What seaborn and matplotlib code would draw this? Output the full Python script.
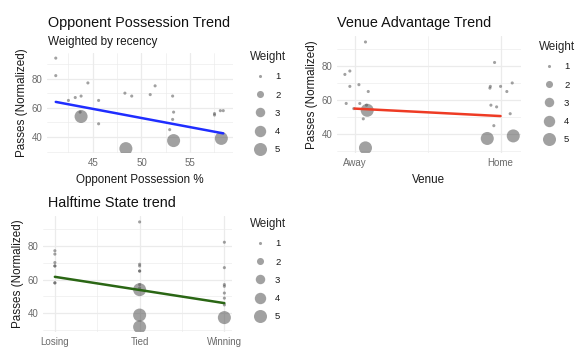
import numpy as np
import pandas as pd
import matplotlib
matplotlib.use("Agg")
import matplotlib.pyplot as plt
import seaborn as sns
from matplotlib.lines import Line2D
from matplotlib.ticker import FixedLocator

# one entry per match (last four = most recent, weight 5)
passes = [94, 82, 77, 75, 70, 69, 68, 68, 68, 67, 65, 65, 58, 58, 57, 57, 56, 55, 52, 49, 45,
          54, 32, 37.5, 39]
opp_possession = [41.2, 41.2, 44.5, 51.4, 48.3, 50.9, 43.8, 49.0, 53.2, 43.2, 42.5, 45.6, 58.1,
                  58.4, 43.7, 53.3, 57.5, 57.5, 53.2, 45.6, 52.9, 43.8, 48.4, 53.3, 58.2]
venue = ["Away", "Home", "Away", "Away", "Home", "Away", "Away", "Home", "Home", "Home", "Away",
         "Home", "Away", "Away", "Away", "Home", "Home", "Away", "Home", "Away", "Home",
         "Away", "Away", "Home", "Home"]
halftime = ["Tied", "Winning", "Losing", "Losing", "Losing", "Tied", "Losing", "Losing", "Tied",
            "Winning", "Tied", "Tied", "Losing", "Losing", "Tied", "Winning", "Winning", "Tied",
            "Winning", "Winning", "Winning", "Tied", "Tied", "Winning", "Tied"]
weight = [1] * 21 + [5] * 4
# horizontal jitter seen in the venue panel
venue_jitter = [0.075, -0.041, -0.032, -0.066, 0.08, 0.03, -0.032, -0.07, 0.0, -0.073, 0.094,
                0.043, -0.057, 0.036, 0.082, -0.066, -0.027, -0.005, 0.066, 0.06, -0.046,
                0.087, 0.075, -0.091, 0.087]

venue_levels = ["Away", "Home"]
halftime_levels = ["Losing", "Tied", "Winning"]
legend_weights = [1, 2, 3, 4, 5]

df = pd.DataFrame({"Passes": passes, "Possession": opp_possession, "Venue": venue,
                   "Halftime": halftime, "Weight": weight})
df["VenueCode"] = df["Venue"].map({v: i + 1 for i, v in enumerate(venue_levels)})
df["VenueX"] = df["VenueCode"] + np.array(venue_jitter)
df["HalftimeCode"] = df["Halftime"].map({v: i + 1 for i, v in enumerate(halftime_levels)})

sns.set_theme(style="white")
plt.rcParams["font.family"] = ["Liberation Sans", "DejaVu Sans"]

SMIN, SMAX = 5, 88
POINT = "#555555"
ALPHA = 0.55
GRID = "#ebebeb"
TICK = "#6b6b6b"

def size_of(w):
    return SMIN + (w - 1) / 4 * (SMAX - SMIN)

fig = plt.figure(figsize=(5.77, 3.5), dpi=100)
W, H = 577, 350

def add_ax(left, top, right, bottom):
    return fig.add_axes([left / W, 1 - bottom / H, (right - left) / W, (bottom - top) / H])

ax1 = add_ax(47, 53, 233, 153)
ax2 = add_ax(337, 36, 521, 153)
ax3 = add_ax(43, 216, 232, 332)

def panel(ax, xcol, fitcol, color, xlim, major, minor, ticklabels=None):
    sns.scatterplot(data=df, x=xcol, y="Passes", size="Weight", sizes=(SMIN, SMAX),
                    size_norm=(1, 5), color=POINT, alpha=ALPHA, linewidth=0,
                    legend=False, ax=ax, zorder=3)
    slope, icpt = np.polyfit(df[fitcol], df["Passes"], 1, w=np.sqrt(df["Weight"]))
    xs = np.array([df[fitcol].min(), df[fitcol].max()])
    sns.lineplot(x=xs, y=icpt + slope * xs, color=color, linewidth=1.8, ax=ax, zorder=4)
    ax.set_xlim(*xlim)
    ax.set_ylim(29, 97.5)
    ax.xaxis.set_major_locator(FixedLocator(major))
    ax.xaxis.set_minor_locator(FixedLocator(minor))
    ax.yaxis.set_major_locator(FixedLocator([40, 60, 80]))
    ax.yaxis.set_minor_locator(FixedLocator([30, 50, 70, 90]))
    if ticklabels:
        ax.set_xticklabels(ticklabels)
    ax.grid(True, which="major", color=GRID, linewidth=0.9)
    ax.grid(True, which="minor", color=GRID, linewidth=0.45)
    ax.set_axisbelow(True)
    for s in ax.spines.values():
        s.set_visible(False)
    ax.tick_params(which="both", length=0, labelsize=7, labelcolor=TICK, pad=3.5)
    ax.set_ylabel("Passes (Normalized)", fontsize=8.4, color="#1a1a1a", labelpad=2.5)
    ax.set_xlabel("")

    handles = [Line2D([], [], marker="o", linestyle="", color=POINT, alpha=ALPHA,
                      markeredgewidth=0, markersize=np.sqrt(size_of(w)))
               for w in legend_weights]
    return handles

h = panel(ax1, "Possession", "Possession", "#1f2dff", (40.3, 59.4),
          [45, 50, 55], [42.5, 47.5, 52.5, 57.5])
ax1.set_xlabel("Opponent Possession %", fontsize=8.4, color="#1a1a1a", labelpad=4.5)

panel(ax2, "VenueX", "VenueCode", "#ee3b24", (0.88, 2.14), [1, 2], [1.5], venue_levels)
ax2.set_xlabel("Venue", fontsize=8.4, color="#1a1a1a", labelpad=4.5)

panel(ax3, "HalftimeCode", "HalftimeCode", "#2a6614", (0.86, 3.09), [1, 2, 3], [1.5, 2.5],
      halftime_levels)

def legend_at(ax, x, y):
    leg = ax.legend(h, [str(w) for w in legend_weights], title="Weight",
                    loc="upper left", bbox_to_anchor=(x / W, 1 - y / H),
                    bbox_transform=fig.transFigure, frameon=False, fontsize=6.8,
                    title_fontsize=8.4, labelspacing=0.98, handlelength=2.1,
                    handletextpad=0.55, borderpad=0, borderaxespad=0)
    leg._legend_box.align = "left"
    for t in leg.get_texts():
        t.set_color("#1a1a1a")

legend_at(ax1, 250, 51)
legend_at(ax2, 539, 41)
legend_at(ax3, 250, 218)

fig.text(48 / W, 1 - 23 / H, "Opponent Possession Trend", fontsize=10.4, va="center", color="#111111")
fig.text(48 / W, 1 - 42 / H, "Weighted by recency", fontsize=8.5, va="center", color="#1a1a1a")
fig.text(337 / W, 1 - 23 / H, "Venue Advantage Trend", fontsize=10.4, va="center", color="#111111")
fig.text(48 / W, 1 - 203 / H, "Halftime State trend", fontsize=10.4, va="center", color="#111111")

fig.savefig("out.png", dpi=100)
